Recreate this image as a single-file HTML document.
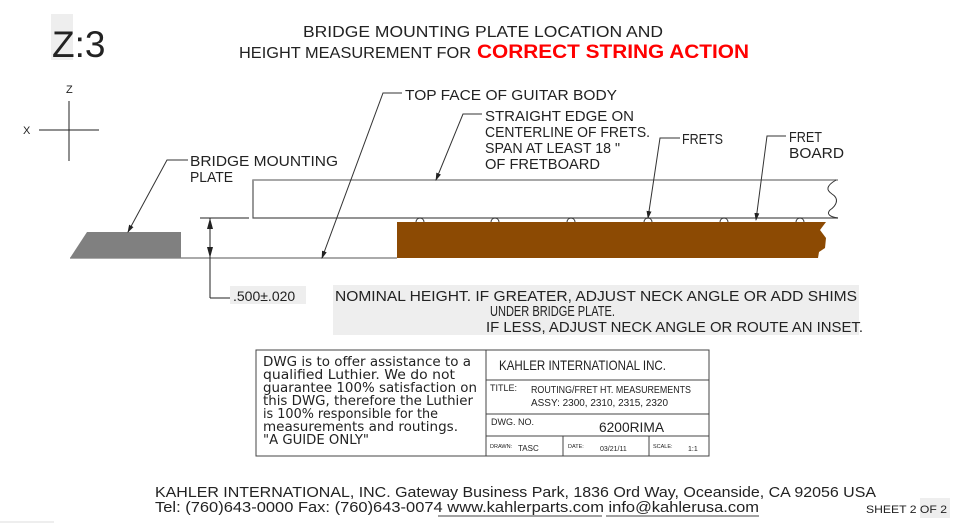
<!DOCTYPE html>
<html><head><meta charset="utf-8"><style>
html,body{margin:0;padding:0;background:#fff;}
svg{display:block;}
text{font-family:"Liberation Sans",sans-serif;fill:#222;}
.c{font-family:"Liberation Sans Narrow","Liberation Sans",sans-serif;}
.d{font-family:"DejaVu Sans","Liberation Sans",sans-serif;}
</style></head><body>
<svg width="965" height="524" viewBox="0 0 965 524" xmlns="http://www.w3.org/2000/svg">
<defs><marker id="a" markerWidth="8" markerHeight="8" refX="7" refY="4" orient="auto" markerUnits="userSpaceOnUse"><path d="M0,1.5 L8,4 L0,6.5 z" fill="#222"/></marker></defs>
<rect x="51" y="14" width="22" height="46" fill="#eee"/>
<text x="52" y="57" font-size="37" fill="#333">Z:3</text>
<text x="483" y="37" font-size="16" text-anchor="middle" textLength="360" lengthAdjust="spacingAndGlyphs">BRIDGE MOUNTING PLATE LOCATION AND</text>
<text x="239" y="58" font-size="16" textLength="232" lengthAdjust="spacingAndGlyphs">HEIGHT MEASUREMENT FOR</text>
<text x="477" y="58" font-size="19" font-weight="bold" style="fill:#f00" textLength="272" lengthAdjust="spacingAndGlyphs">CORRECT STRING ACTION</text>
<text x="66" y="93" font-size="11">Z</text>
<text x="23" y="134" font-size="11">X</text>
<line x1="69" y1="101" x2="69" y2="161" stroke="#222"/>
<line x1="39" y1="130" x2="99" y2="130" stroke="#222"/>
<path d="M838,180 L253,180 L253,218 L838,218" fill="none" stroke="#555" stroke-width="1.2"/>
<line x1="253" y1="180" x2="838" y2="180" stroke="#999" stroke-width="1.5"/>
<path d="M836,180 C826,186 826,190 832,194 C840,199 836,206 830,210 C826,214 830,217 838,218" fill="none" stroke="#333"/>
<g fill="none" stroke="#333" stroke-width="0.9">
<path d="M416,222 a4,4 0 0 1 8,0"/><path d="M491,222 a4,4 0 0 1 8,0"/><path d="M567,222 a4,4 0 0 1 8,0"/><path d="M644,222 a4,4 0 0 1 8,0"/><path d="M720,222 a4,4 0 0 1 8,0"/><path d="M796,222 a4,4 0 0 1 8,0"/>
</g>
<path d="M397,222 L826,222 L820,230 L826,238 L825,248 L819,252 L818,258 L397,258 z" fill="#8C4A03"/>
<line x1="70" y1="258" x2="397" y2="258" stroke="#555"/>
<path d="M70,258 L87,232 L181,232 L181,258 z" fill="#808080"/>
<line x1="200" y1="218" x2="249" y2="218" stroke="#222"/>
<line x1="210" y1="218" x2="210" y2="298" stroke="#222"/>
<line x1="210" y1="298" x2="230" y2="298" stroke="#222"/>
<path d="M210,218 L207,229 L213,229 z M210,258 L207,247 L213,247 z" fill="#222"/>
<rect x="230" y="286" width="76" height="18" fill="#eee"/>
<text class="c" x="233" y="301" font-size="14">.500±.020</text>
<rect x="333" y="285" width="526" height="50" fill="#eee"/>
<text class="c" x="335" y="301" font-size="14.5" textLength="522" lengthAdjust="spacingAndGlyphs">NOMINAL HEIGHT.  IF GREATER, ADJUST NECK ANGLE OR ADD SHIMS</text>
<text class="c" x="490" y="316" font-size="14.5" textLength="125" lengthAdjust="spacingAndGlyphs">UNDER BRIDGE PLATE.</text>
<text class="c" x="486" y="332" font-size="14.5" textLength="377" lengthAdjust="spacingAndGlyphs">IF LESS, ADJUST NECK ANGLE OR ROUTE AN INSET.</text>
<g stroke="#333" fill="none">
<polyline points="402,93 383,93 322,258" marker-end="url(#a)"/>
<polyline points="482,114 463,114 436,180" marker-end="url(#a)"/>
<polyline points="680,138 660,138 648,218" marker-end="url(#a)"/>
<polyline points="786,136 767,136 756,220" marker-end="url(#a)"/>
<polyline points="188,160 167,160 128,232" marker-end="url(#a)"/>
</g>
<g font-size="15">
<text class="c" x="405" y="100" textLength="212" lengthAdjust="spacingAndGlyphs">TOP FACE OF GUITAR BODY</text>
<text class="c" x="485" y="121" textLength="149" lengthAdjust="spacingAndGlyphs">STRAIGHT EDGE ON</text>
<text class="c" x="485" y="137" textLength="165" lengthAdjust="spacingAndGlyphs">CENTERLINE OF FRETS.</text>
<text class="c" x="485" y="153" textLength="135" lengthAdjust="spacingAndGlyphs">SPAN AT LEAST 18 "</text>
<text class="c" x="485" y="169" textLength="115" lengthAdjust="spacingAndGlyphs">OF FRETBOARD</text>
<text class="c" x="682" y="144" textLength="41" lengthAdjust="spacingAndGlyphs">FRETS</text>
<text class="c" x="789" y="142" textLength="33" lengthAdjust="spacingAndGlyphs">FRET</text>
<text class="c" x="789" y="158" textLength="55" lengthAdjust="spacingAndGlyphs">BOARD</text>
<text class="c" x="190" y="166" textLength="148" lengthAdjust="spacingAndGlyphs">BRIDGE MOUNTING</text>
<text class="c" x="190" y="182" textLength="43" lengthAdjust="spacingAndGlyphs">PLATE</text>
</g>
<g stroke="#444" fill="none">
<rect x="256" y="350" width="453" height="106"/>
<line x1="486" y1="350" x2="486" y2="456"/>
<line x1="486" y1="380" x2="709" y2="380"/>
<line x1="486" y1="414" x2="709" y2="414"/>
<line x1="486" y1="436" x2="709" y2="436"/>
<line x1="563" y1="436" x2="563" y2="456"/>
<line x1="649" y1="436" x2="649" y2="456"/>
</g>
<g font-size="13">
<text class="d" x="263" y="366" textLength="208" lengthAdjust="spacingAndGlyphs">DWG is to offer assistance to a</text>
<text class="d" x="263" y="379" textLength="192" lengthAdjust="spacingAndGlyphs">qualified Luthier.  We do not</text>
<text class="d" x="263" y="392" textLength="214" lengthAdjust="spacingAndGlyphs">guarantee 100% satisfaction on</text>
<text class="d" x="263" y="405" textLength="210" lengthAdjust="spacingAndGlyphs">this DWG, therefore the Luthier</text>
<text class="d" x="263" y="418" textLength="175" lengthAdjust="spacingAndGlyphs">is 100% responsible for the</text>
<text class="d" x="263" y="431" textLength="195" lengthAdjust="spacingAndGlyphs">measurements and routings.</text>
<text class="d" x="263" y="444" textLength="106" lengthAdjust="spacingAndGlyphs">"A GUIDE ONLY"</text>
</g>
<text class="c" x="499" y="370" font-size="14" textLength="167" lengthAdjust="spacingAndGlyphs">KAHLER INTERNATIONAL INC.</text>
<text class="c" x="490" y="391" font-size="9">TITLE:</text>
<text class="c" x="531" y="393" font-size="10" textLength="160" lengthAdjust="spacingAndGlyphs">ROUTING/FRET HT. MEASUREMENTS</text>
<text class="c" x="531" y="406" font-size="10" textLength="137" lengthAdjust="spacingAndGlyphs">ASSY: 2300, 2310, 2315, 2320</text>
<text class="c" x="491" y="425" font-size="9">DWG. NO.</text>
<text class="c" x="599" y="432" font-size="14" textLength="65" lengthAdjust="spacingAndGlyphs">6200RIMA</text>
<text class="c" x="490" y="448" font-size="5.5">DRAWN:</text>
<text class="c" x="518" y="451" font-size="8">TASC</text>
<text class="c" x="568" y="448" font-size="5.5">DATE:</text>
<text class="c" x="600" y="451" font-size="7">03/21/11</text>
<text class="c" x="653" y="448" font-size="5.5">SCALE:</text>
<text class="c" x="688" y="451" font-size="7">1:1</text>
<text class="c" x="155" y="497" font-size="15" textLength="721" lengthAdjust="spacingAndGlyphs">KAHLER INTERNATIONAL, INC.  Gateway Business Park, 1836 Ord Way, Oceanside, CA 92056 USA</text>
<text class="c" x="155" y="512" font-size="15" textLength="604" lengthAdjust="spacingAndGlyphs">Tel:  (760)643-0000 Fax: (760)643-0074 www.kahlerparts.com info@kahlerusa.com</text>
<line x1="438" y1="516" x2="602" y2="516" stroke="#444"/>
<line x1="606" y1="516" x2="759" y2="516" stroke="#444"/>
<rect x="920" y="498" width="30" height="20" fill="#eee"/>
<text class="c" x="866" y="513" font-size="11" textLength="81" lengthAdjust="spacingAndGlyphs">SHEET 2 OF 2</text>
<line x1="0" y1="522" x2="54" y2="522" stroke="#ddd"/>
</svg>
</body></html>
